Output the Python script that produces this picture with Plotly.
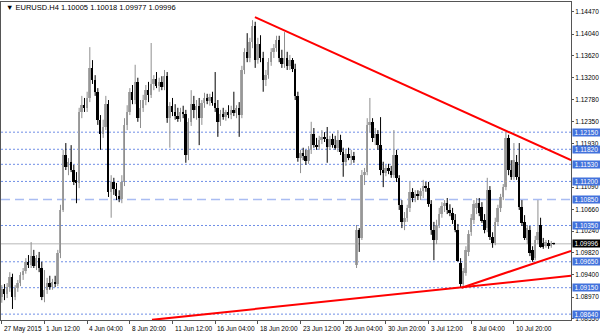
import plotly.graph_objects as go

# ---------------- data (EURUSD H4) ----------------
opens = [
    1.0897, 1.0913, 1.0903, 1.0916, 1.0936, 1.0897, 1.0914, 1.0924, 1.0940, 1.0947,
    1.0965, 1.0959, 1.0976, 1.0957, 1.0972, 1.0953, 1.0897, 1.0911, 1.0924, 1.0916,
    1.0926, 1.0922, 1.0982, 1.1065, 1.1171, 1.1148, 1.1157, 1.1142, 1.1123, 1.1117,
    1.1254, 1.1267, 1.1262, 1.1281, 1.1339, 1.1316, 1.1293, 1.1239, 1.1212, 1.1225,
    1.1269, 1.1100, 1.1119, 1.1105, 1.1092, 1.1086, 1.1119, 1.1229, 1.1254, 1.1293,
    1.1277, 1.1312, 1.1242, 1.1262, 1.1277, 1.1296, 1.1287, 1.1308, 1.1318, 1.1304,
    1.1312, 1.1302, 1.1323, 1.1242, 1.1266, 1.1254, 1.1246, 1.1240, 1.1254, 1.1250,
    1.1171, 1.1235, 1.1269, 1.1258, 1.1266, 1.1242, 1.1271, 1.1281, 1.1275, 1.1283,
    1.1271, 1.1262, 1.1235, 1.1250, 1.1244, 1.1254, 1.1248, 1.1258, 1.1252, 1.1262,
    1.1248, 1.1335, 1.1370, 1.1358, 1.1389, 1.1420, 1.1354, 1.1385, 1.1358, 1.1316,
    1.1325, 1.1350, 1.1370, 1.1377, 1.1393, 1.1358, 1.1347, 1.1358, 1.1343, 1.1354,
    1.1337, 1.1285, 1.1165, 1.1175, 1.1169, 1.1159, 1.1181, 1.1212, 1.1190, 1.1186,
    1.1200, 1.1206, 1.1202, 1.1186, 1.1202, 1.1190, 1.1185, 1.1200, 1.1177, 1.1158,
    1.1173, 1.1165, 1.1169, 1.0959, 1.1026, 1.1011, 1.1132, 1.1138, 1.1229, 1.1235,
    1.1204, 1.1212, 1.1190, 1.1142, 1.1136, 1.1146, 1.1140, 1.1132, 1.1171, 1.1127,
    1.1075, 1.1042, 1.1050, 1.1069, 1.1100, 1.1088, 1.1096, 1.1092, 1.1102, 1.1111,
    1.1107, 1.1076, 1.1026, 1.1007, 1.1036, 1.1057, 1.1073, 1.1078, 1.1065, 1.1059,
    1.1046, 1.1026, 1.0962, 1.0922, 1.0943, 1.0984, 1.1022, 1.1046, 1.1069, 1.1078,
    1.1071, 1.1046, 1.1030, 1.1103, 1.1013, 1.1001, 1.1042, 1.1069, 1.1090, 1.1109,
    1.1204, 1.1142, 1.1129, 1.1157, 1.1129, 1.1071, 1.1042, 1.1007, 1.1026, 1.0988,
    1.0972, 1.1007, 1.1036, 1.1001, 1.0995, 1.1001, 1.0995, 1.10005,
]
highs = [
    1.0920, 1.0922, 1.0924, 1.0945, 1.0942, 1.0920, 1.0930, 1.0945, 1.0953, 1.0972,
    1.0978, 1.1003, 1.0988, 1.0978, 1.0984, 1.0965, 1.0949, 1.0934, 1.0938, 1.0932,
    1.0938, 1.0988, 1.1075, 1.1181, 1.1194, 1.1165, 1.1190, 1.1152, 1.1138, 1.1262,
    1.1285, 1.1281, 1.1293, 1.1379, 1.1354, 1.1325, 1.1300, 1.1248, 1.1239, 1.1285,
    1.1277, 1.1132, 1.1127, 1.1117, 1.1103, 1.1132, 1.1242, 1.1267, 1.1300, 1.1306,
    1.1345, 1.1320, 1.1277, 1.1287, 1.1306, 1.1312, 1.1387, 1.1325, 1.1331, 1.1320,
    1.1323, 1.1335, 1.1331, 1.1273, 1.1281, 1.1269, 1.1262, 1.1262, 1.1266, 1.1258,
    1.1242, 1.1296, 1.1285, 1.1277, 1.1281, 1.1277, 1.1291, 1.1289, 1.1289, 1.1293,
    1.1331, 1.1277, 1.1258, 1.1262, 1.1258, 1.1267, 1.1266, 1.1293, 1.1267, 1.1273,
    1.1343, 1.1377, 1.1406, 1.1397, 1.1431, 1.1428, 1.1397, 1.1402, 1.1370, 1.1335,
    1.1358, 1.1377, 1.1385, 1.1401, 1.1401, 1.1374, 1.1408, 1.1370, 1.1364, 1.1358,
    1.1347, 1.1293, 1.1181, 1.1185, 1.1181, 1.1188, 1.1235, 1.1223, 1.1204, 1.1208,
    1.1219, 1.1215, 1.1225, 1.1208, 1.1212, 1.1208, 1.1219, 1.1210, 1.1185, 1.1181,
    1.1185, 1.1181, 1.1177, 1.1036, 1.1030, 1.1142, 1.1146, 1.1242, 1.1281, 1.1242,
    1.1223, 1.1219, 1.1244, 1.1158, 1.1152, 1.1154, 1.1150, 1.1219, 1.1181, 1.1132,
    1.1084, 1.1061, 1.1075, 1.1119, 1.1107, 1.1103, 1.1103, 1.1107, 1.1123, 1.1119,
    1.1119, 1.1084, 1.1042, 1.1046, 1.1069, 1.1080, 1.1084, 1.1088, 1.1076, 1.1069,
    1.1057, 1.1038, 1.0972, 1.0953, 1.0995, 1.1026, 1.1057, 1.1084, 1.1088, 1.1088,
    1.1080, 1.1057, 1.1127, 1.1111, 1.1022, 1.1050, 1.1075, 1.1096, 1.1115, 1.1215,
    1.1210, 1.1161, 1.1194, 1.1171, 1.1194, 1.1084, 1.1055, 1.1036, 1.1034, 1.0995,
    1.1015, 1.1084, 1.1050, 1.1011, 1.1007, 1.1007, 1.1005, 1.10018,
]
lows = [
    1.0886, 1.0891, 1.0895, 1.0907, 1.0874, 1.0891, 1.0907, 1.0918, 1.0930, 1.0942,
    1.0953, 1.0953, 1.0953, 1.0949, 1.0945, 1.0891, 1.0887, 1.0903, 1.0911, 1.0911,
    1.0916, 1.0918, 1.0972, 1.1061, 1.1142, 1.1132, 1.1138, 1.1113, 1.1078, 1.1107,
    1.1242, 1.1254, 1.1254, 1.1273, 1.1308, 1.1285, 1.1229, 1.1181, 1.1204, 1.1219,
    1.1090, 1.1050, 1.1094, 1.1084, 1.1080, 1.1078, 1.1111, 1.1219, 1.1248, 1.1269,
    1.1269, 1.1235, 1.1223, 1.1254, 1.1267, 1.1273, 1.1281, 1.1296, 1.1300, 1.1293,
    1.1296, 1.1296, 1.1233, 1.1185, 1.1246, 1.1239, 1.1235, 1.1235, 1.1242, 1.1156,
    1.1161, 1.1227, 1.1242, 1.1239, 1.1190, 1.1229, 1.1262, 1.1269, 1.1266, 1.1266,
    1.1254, 1.1206, 1.1227, 1.1239, 1.1237, 1.1242, 1.1240, 1.1246, 1.1242, 1.1206,
    1.1242, 1.1327, 1.1350, 1.1350, 1.1377, 1.1339, 1.1347, 1.1350, 1.1293, 1.1304,
    1.1318, 1.1343, 1.1358, 1.1370, 1.1350, 1.1339, 1.1339, 1.1335, 1.1335, 1.1331,
    1.1277, 1.1158, 1.1136, 1.1161, 1.1152, 1.1154, 1.1173, 1.1185, 1.1181, 1.1181,
    1.1192, 1.1196, 1.1156, 1.1181, 1.1185, 1.1181, 1.1177, 1.1171, 1.1129, 1.1150,
    1.1161, 1.1152, 1.1156, 1.0953, 1.0984, 1.1007, 1.1113, 1.1132, 1.1215, 1.1196,
    1.1190, 1.1181, 1.1132, 1.1109, 1.1130, 1.1134, 1.1127, 1.1127, 1.1119, 1.1065,
    1.1030, 1.1026, 1.1042, 1.1061, 1.1080, 1.1080, 1.1084, 1.1084, 1.1088, 1.1100,
    1.1071, 1.1017, 1.0968, 1.0999, 1.1030, 1.1050, 1.1061, 1.1057, 1.1053, 1.1038,
    1.1022, 1.0965, 1.0916, 1.0914, 1.0938, 1.0976, 1.1015, 1.1038, 1.1057, 1.1053,
    1.1040, 1.1020, 1.1022, 1.1007, 1.0992, 1.0997, 1.1034, 1.1061, 1.1084, 1.1103,
    1.1132, 1.1123, 1.1123, 1.1123, 1.1065, 1.1034, 1.1007, 1.0999, 1.0976, 1.0965,
    1.0968, 1.0999, 1.0992, 1.0990, 1.0992, 1.0990, 1.0992, 1.09977,
]
closes = [
    1.0913, 1.0903, 1.0916, 1.0936, 1.0897, 1.0914, 1.0924, 1.0940, 1.0947, 1.0965,
    1.0959, 1.0976, 1.0957, 1.0972, 1.0953, 1.0897, 1.0911, 1.0924, 1.0916, 1.0926,
    1.0922, 1.0982, 1.1065, 1.1171, 1.1148, 1.1157, 1.1142, 1.1119, 1.1117, 1.1254,
    1.1267, 1.1262, 1.1281, 1.1339, 1.1316, 1.1293, 1.1239, 1.1212, 1.1225, 1.1269,
    1.1100, 1.1119, 1.1105, 1.1092, 1.1086, 1.1119, 1.1229, 1.1254, 1.1293, 1.1277,
    1.1312, 1.1242, 1.1262, 1.1277, 1.1296, 1.1287, 1.1308, 1.1318, 1.1304, 1.1312,
    1.1302, 1.1323, 1.1242, 1.1266, 1.1254, 1.1246, 1.1240, 1.1254, 1.1250, 1.1171,
    1.1235, 1.1269, 1.1258, 1.1266, 1.1242, 1.1271, 1.1281, 1.1275, 1.1283, 1.1271,
    1.1262, 1.1235, 1.1250, 1.1244, 1.1254, 1.1248, 1.1258, 1.1252, 1.1262, 1.1248,
    1.1335, 1.1370, 1.1358, 1.1389, 1.1420, 1.1354, 1.1385, 1.1358, 1.1316, 1.1325,
    1.1350, 1.1370, 1.1377, 1.1393, 1.1358, 1.1347, 1.1358, 1.1343, 1.1354, 1.1337,
    1.1285, 1.1165, 1.1175, 1.1169, 1.1159, 1.1181, 1.1212, 1.1190, 1.1186, 1.1200,
    1.1206, 1.1202, 1.1186, 1.1202, 1.1190, 1.1185, 1.1200, 1.1177, 1.1158, 1.1173,
    1.1165, 1.1169, 1.1161, 1.1026, 1.1011, 1.1132, 1.1138, 1.1229, 1.1235, 1.1204,
    1.1212, 1.1190, 1.1142, 1.1136, 1.1146, 1.1140, 1.1132, 1.1171, 1.1127, 1.1075,
    1.1042, 1.1050, 1.1069, 1.1100, 1.1088, 1.1096, 1.1092, 1.1102, 1.1111, 1.1107,
    1.1076, 1.1026, 1.1007, 1.1036, 1.1057, 1.1073, 1.1078, 1.1065, 1.1059, 1.1046,
    1.1026, 1.0966, 1.0922, 1.0947, 1.0988, 1.1019, 1.1050, 1.1076, 1.1078, 1.1059,
    1.1044, 1.1026, 1.1103, 1.1013, 1.1001, 1.1042, 1.1069, 1.1090, 1.1109, 1.1204,
    1.1142, 1.1129, 1.1161, 1.1129, 1.1071, 1.1040, 1.1011, 1.1030, 1.0982, 1.0968,
    1.1007, 1.1022, 1.0993, 1.0993, 1.1003, 1.0995, 1.1001, 1.09996,
]

# time axis labels (one every 16 H4 bars)
tick_bars = [0, 16, 32, 48, 64, 80, 96, 112, 128, 144, 160, 176, 192]
tick_labels = ["27 May 2015", "1 Jun 12:00", "4 Jun 04:00", "8 Jun 20:00",
               "11 Jun 12:00", "16 Jun 04:00", "18 Jun 20:00", "23 Jun 12:00",
               "26 Jun 04:00", "30 Jun 20:00", "3 Jul 12:00", "8 Jul 04:00",
               "10 Jul 20:00"]

# price scale ticks (1.11510 sits fully under the 1.11530 level box)
price_ticks = [1.14470, 1.14040, 1.13620, 1.13200, 1.12780, 1.12350, 1.11930,
               1.11090, 1.10660, 1.10240, 1.09820, 1.09400, 1.08970, 1.08550]

# horizontal support / resistance levels
levels = [1.12150, 1.11820, 1.11530, 1.11200, 1.10850, 1.10350, 1.09650,
          1.09150, 1.08640]
level_dashed = [False, False, False, False, True, False, False, False, False]
current_price = 1.09996

# trend lines (bar index, price)
trend_x0 = [94.9, 56.3, 172.4]
trend_y0 = [1.1437, 1.0853, 1.0915]
trend_x1 = [213.4, 213.4, 213.4]
trend_y1 = [1.1161, 1.0938, 1.0986]

title_text = "\u25BC EURUSD.H4 1.10005 1.10018 1.09977 1.09996"

# ---------------- figure ----------------
FONT = "Liberation Sans"
FS = 6.5
BULL = "#a6a6a6"
BULL_WICK = "#8f8f8f"
BEAR = "#000000"
LEVEL_BLUE = "#6f8ee6"
BOX_BLUE = "#4272dc"

n = len(closes)
idx = list(range(n))

fig = go.Figure()

for bull in (True, False):
    wx, wy = [], []
    bx, bb, bh = [], [], []
    for i in idx:
        o, h, l, c = opens[i], highs[i], lows[i], closes[i]
        if (c >= o) != bull:
            continue
        wx += [i, i, None]
        wy += [l, h, None]
        bx.append(i)
        bb.append(min(o, c))
        bh.append(max(abs(c - o), 0.00005))
    fig.add_trace(go.Scatter(x=wx, y=wy, mode="lines",
                             line=dict(color=BULL_WICK if bull else BEAR, width=1),
                             hoverinfo="skip", showlegend=False))
    fig.add_trace(go.Bar(x=bx, y=bh, base=bb, width=0.72,
                         marker=dict(color=BULL if bull else BEAR, line=dict(width=0)),
                         showlegend=False, hoverinfo="skip"))

shapes = []
for lv, dashed in zip(levels, level_dashed):
    shapes.append(dict(type="line", xref="paper", x0=0, x1=1, yref="y", y0=lv, y1=lv,
                       line=dict(color="#a9bcf2" if dashed else LEVEL_BLUE,
                                 width=1.6 if dashed else 1,
                                 dash="9px,5px" if dashed else "2px,2px"),
                       layer="below"))
shapes.append(dict(type="line", xref="paper", x0=0, x1=1, yref="y",
                   y0=current_price, y1=current_price,
                   line=dict(color="#cfcfcf", width=1.5), layer="below"))
for x0, y0, x1, y1 in zip(trend_x0, trend_y0, trend_x1, trend_y1):
    shapes.append(dict(type="line", xref="x", yref="y", x0=x0, y0=y0, x1=x1, y1=y1,
                       line=dict(color="#ff0000", width=2)))

annotations = []
# time labels: written to the right of their tick mark, as in the terminal
for tb, tl in zip(tick_bars, tick_labels):
    annotations.append(dict(xref="x", x=tb, xanchor="left", xshift=0,
                            yref="paper", y=0, yanchor="top", yshift=-3,
                            text=tl, showarrow=False,
                            font=dict(family=FONT, size=FS, color="#000000")))
for lv in levels:
    annotations.append(dict(xref="paper", x=1, xanchor="left", xshift=1,
                            yref="y", y=lv, yanchor="middle",
                            text=f"{lv:.5f}", showarrow=False, bgcolor=BOX_BLUE,
                            font=dict(family=FONT, size=FS, color="white"),
                            borderpad=0, width=27, align="center"))
annotations.append(dict(xref="paper", x=1, xanchor="left", xshift=1,
                        yref="y", y=current_price, yanchor="middle",
                        text=f"{current_price:.5f}", showarrow=False, bgcolor="#000000",
                        font=dict(family=FONT, size=FS, color="white"),
                        borderpad=0, width=27, align="center"))
annotations.append(dict(xref="paper", x=0, xanchor="left", xshift=3,
                        yref="paper", y=1, yanchor="middle", yshift=-5,
                        text=title_text, showarrow=False,
                        font=dict(family=FONT, size=7.5, color="#000000")))

fig.update_layout(
    width=600, height=333,
    margin=dict(l=1, r=29, t=2, b=13, autoexpand=False),
    paper_bgcolor="white", plot_bgcolor="white",
    barmode="overlay", bargap=0,
    showlegend=False,
    shapes=shapes, annotations=annotations,
    font=dict(family=FONT, size=FS, color="#000000"),
    xaxis=dict(range=[-0.3, 213.4], showgrid=False, zeroline=False,
               showline=True, linecolor="#555555", linewidth=1, mirror=True,
               tickvals=tick_bars, ticks="outside", showticklabels=False,
               ticklen=3, tickcolor="#555555", automargin=False,
               fixedrange=True),
    yaxis=dict(range=[1.08527, 1.14661], side="right", showgrid=False,
               zeroline=False, showline=True, linecolor="#555555", linewidth=1,
               mirror=True, tickvals=price_ticks,
               ticktext=[f"{v:.5f}" for v in price_ticks],
               ticks="outside", ticklen=2, tickcolor="#555555",
               automargin=False,
               tickfont=dict(family=FONT, size=FS, color="#000000"),
               fixedrange=True),
)

fig.write_html("out.html")
